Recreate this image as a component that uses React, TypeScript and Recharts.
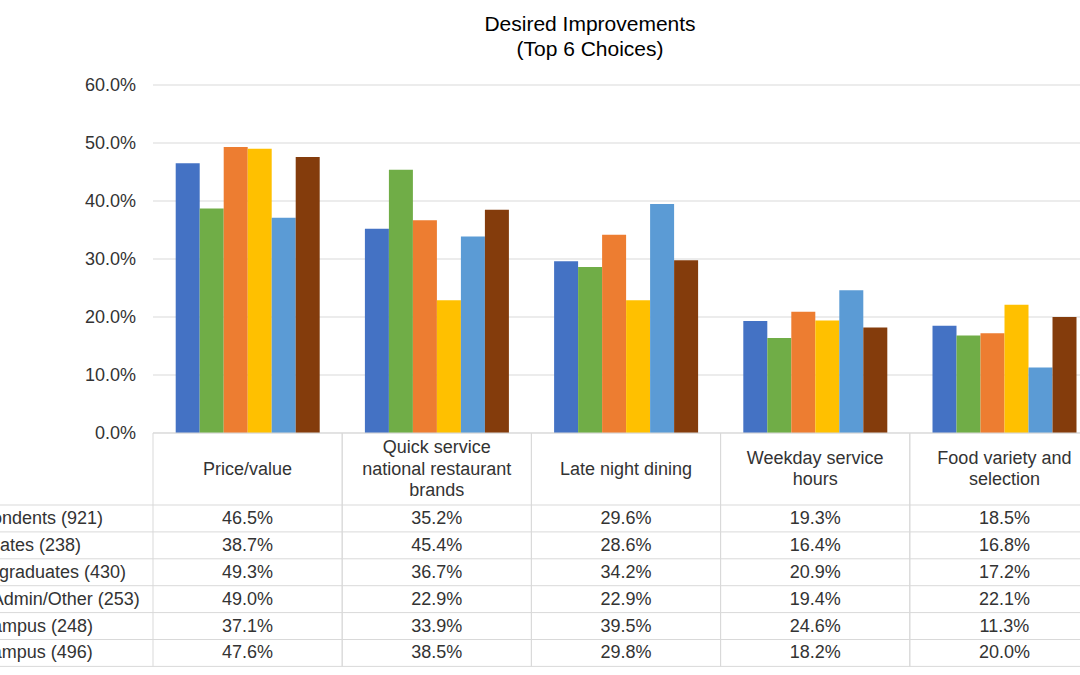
import { Bar, BarChart, CartesianGrid, XAxis, YAxis } from "recharts";

const categories = [
  "Price/value",
  "Quick service national restaurant brands",
  "Late night dining",
  "Weekday service hours",
  "Food variety and selection",
];

// header cell text, broken the way the table wraps it
const categoryLines = [
  ["Price/value"],
  ["Quick service", "national restaurant", "brands"],
  ["Late night dining"],
  ["Weekday service", "hours"],
  ["Food variety and", "selection"],
];

const seriesNames = [
  "Respondents (921)",
  "Graduates (238)",
  "Undergraduates (430)",
  "Staff/Admin/Other (253)",
  "On Campus (248)",
  "Off Campus (496)",
];

const allRespondents = [46.5, 35.2, 29.6, 19.3, 18.5];
const graduates = [38.7, 45.4, 28.6, 16.4, 16.8];
const undergraduates = [49.3, 36.7, 34.2, 20.9, 17.2];
const staffOther = [49.0, 22.9, 22.9, 19.4, 22.1];
const onCampus = [37.1, 33.9, 39.5, 24.6, 11.3];
const offCampus = [47.6, 38.5, 29.8, 18.2, 20.0];

const yTicks = [0, 10, 20, 30, 40, 50, 60];

const seriesValues = [allRespondents, graduates, undergraduates, staffOther, onCampus, offCampus];
const seriesColors = ["#4472C4", "#70AD47", "#ED7D31", "#FFC000", "#5B9BD5", "#843C0C"];
const seriesKeys = ["s0", "s1", "s2", "s3", "s4", "s5"];

const data = categories.map((name, i) => {
  const row: Record<string, string | number> = { name };
  seriesKeys.forEach((k, s) => {
    row[k] = seriesValues[s][i];
  });
  return row;
});

// layout (svg coordinates; the svg sits SHIFT px left of the page edge)
const SHIFT = 60;
const CHART_W = 1180;
const CHART_H = 675;
const PLOT_LEFT = 213;
const PLOT_RIGHT = 1159;
const PLOT_TOP = 85;
const PLOT_BOTTOM = 433;
const CAT_W = (PLOT_RIGHT - PLOT_LEFT) / categories.length;
const HEADER_BOTTOM = 505;
const ROW_H = 26.9;
const TABLE_BOTTOM = HEADER_BOTTOM + ROW_H * seriesNames.length;
const LABEL_X = 10;

const FONT = "'Liberation Sans', Arial, sans-serif";
const TEXT = "#333333";
const RULE = "#d9d9d9";

const fmt = (v: number) => `${v.toFixed(1)}%`;

function TableColumn(props: any) {
  const { x, payload } = props;
  const c = categories.indexOf(payload.value);
  const left = x - CAT_W / 2;
  const lines = categoryLines[c];
  const mid = (PLOT_BOTTOM + HEADER_BOTTOM) / 2 + 5.5;

  return (
    <g fontFamily={FONT} fontSize={18} fill={TEXT}>
      {c === 0 && (
        <g>
          {seriesNames.map((_, r) => (
            <line
              key={`h${r}`}
              x1={0}
              x2={CHART_W}
              y1={HEADER_BOTTOM + ROW_H * r}
              y2={HEADER_BOTTOM + ROW_H * r}
              stroke={RULE}
            />
          ))}
          <line x1={0} x2={CHART_W} y1={TABLE_BOTTOM} y2={TABLE_BOTTOM} stroke={RULE} />
          {seriesNames.map((n, r) => (
            <text key={`n${r}`} x={LABEL_X} y={HEADER_BOTTOM + ROW_H * r + ROW_H / 2 + 5.5}>
              {n}
            </text>
          ))}
        </g>
      )}
      <line x1={left} x2={left} y1={PLOT_BOTTOM} y2={TABLE_BOTTOM} stroke={RULE} />
      <line x1={left + CAT_W} x2={left + CAT_W} y1={PLOT_BOTTOM} y2={TABLE_BOTTOM} stroke={RULE} />
      {lines.map((t, i) => (
        <text
          key={`c${i}`}
          x={x}
          y={mid + (i - (lines.length - 1) / 2) * 21.5}
          textAnchor="middle"
        >
          {t}
        </text>
      ))}
      {seriesValues.map((vals, r) => (
        <text
          key={`v${r}`}
          x={x}
          y={HEADER_BOTTOM + ROW_H * r + ROW_H / 2 + 5.5}
          textAnchor="middle"
        >
          {fmt(vals[c])}
        </text>
      ))}
    </g>
  );
}

export default function App() {
  return (
    <div
      style={{
        position: "fixed",
        left: 0,
        top: 0,
        width: 1080,
        height: 675,
        overflow: "hidden",
        background: "#fff",
      }}
    >
      <div
        style={{
          position: "absolute",
          left: 0,
          top: 11,
          width: 1180,
          textAlign: "center",
          fontFamily: FONT,
          fontSize: 21,
          lineHeight: "25px",
          color: "#000",
        }}
      >
        <div style={{ width: 1180, marginLeft: 0 }}>
          <div style={{ position: "relative", left: -(1180 / 2 - 590) }}>Desired Improvements</div>
          <div style={{ position: "relative", left: -(1180 / 2 - 590) }}>(Top 6 Choices)</div>
        </div>
      </div>
      <div style={{ position: "absolute", left: -SHIFT, top: 0 }}>
        <BarChart
          width={CHART_W}
          height={CHART_H}
          data={data}
          margin={{ top: PLOT_TOP, right: CHART_W - PLOT_RIGHT, bottom: 0, left: 0 }}
          barCategoryGap="12%"
          barGap={0}
        >
          <CartesianGrid vertical={false} stroke={RULE} />
          <YAxis
            width={PLOT_LEFT}
            domain={[0, 60]}
            ticks={yTicks}
            tickFormatter={fmt}
            axisLine={false}
            tickLine={false}
            tickSize={0}
            tickMargin={17}
            tick={{ fontFamily: FONT, fontSize: 18, fill: TEXT }}
          />
          <XAxis
            dataKey="name"
            height={CHART_H - PLOT_BOTTOM}
            interval={0}
            tickLine={false}
            tickSize={0}
            axisLine={{ stroke: RULE }}
            tick={TableColumn}
          />
          {seriesKeys.map((k, s) => (
            <Bar key={k} dataKey={k} fill={seriesColors[s]} isAnimationActive={false} />
          ))}
        </BarChart>
      </div>
    </div>
  );
}
